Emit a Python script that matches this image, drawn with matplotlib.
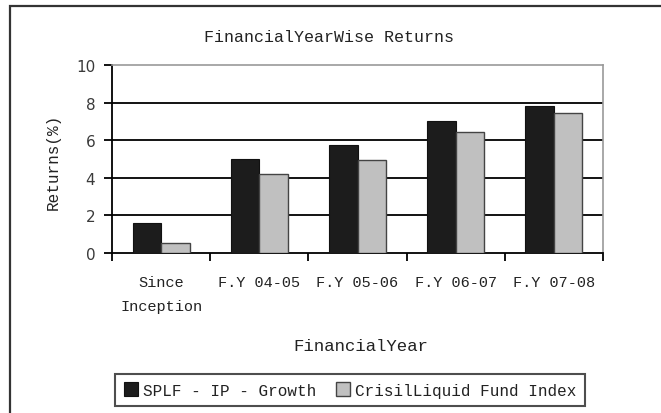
import matplotlib.pyplot as plt
import matplotlib.patches as patches
import numpy as np

# data
categories = ["Since\nInception", "F.Y 04-05", "F.Y 05-06", "F.Y 06-07", "F.Y 07-08"]
splf_growth = [1.6, 5.0, 5.75, 7.0, 7.8]
crisil_index = [0.55, 4.2, 4.95, 6.45, 7.45]
series_names = ["SPLF - IP - Growth", "CrisilLiquid Fund Index"]

W, H = 661, 414
fig = plt.figure(figsize=(W / 100, H / 100), dpi=100)
fig.patch.set_facecolor("white")

mono = "Liberation Mono"
txt = "#222222"

# outer chart border (runs off right and bottom edge)
fig.patches.append(patches.Rectangle((10 / W, -0.05), 1.2, 1 - 7 / H + 0.05,
                                     transform=fig.transFigure, fill=False,
                                     edgecolor="#333333", linewidth=1.6))

ax = fig.add_axes([112 / W, 1 - 254 / H, 491 / W, 188 / H])

x = np.arange(len(categories))
bw = 0.29
b1 = ax.bar(x - bw / 2, splf_growth, bw, color="#1c1c1c", edgecolor="#111111",
            linewidth=0.8, zorder=3, label=series_names[0])
b2 = ax.bar(x + bw / 2, crisil_index, bw, color="#c0c0c0", edgecolor="#444444",
            linewidth=1.0, zorder=3, label=series_names[1])

ax.set_xlim(-0.5, len(categories) - 0.5)
ax.set_ylim(0, 10)
ax.set_yticks([0, 2, 4, 6, 8, 10])
for yv in [2, 4, 6, 8]:
    ax.axhline(yv, color="black", linewidth=1.3, zorder=1)

ax.set_xticks(np.arange(-0.5, len(categories), 1.0))
ax.set_xticklabels([])
ax.set_xticks(x, minor=True)
ax.set_xticklabels(categories, minor=True, fontfamily=mono, fontsize=11,
                   color=txt, linespacing=1.9)
ax.tick_params(axis="x", which="major", length=6, width=1.3, direction="out", color="black")
ax.tick_params(axis="x", which="minor", length=0, pad=16)
ax.tick_params(axis="y", length=6, width=1.3, direction="out", color="black",
               pad=6, labelsize=11, labelcolor="#3a3a3a")

for s in ["left", "bottom"]:
    ax.spines[s].set_color("black")
    ax.spines[s].set_linewidth(1.3)
for s in ["top", "right"]:
    ax.spines[s].set_color("#999999")
    ax.spines[s].set_linewidth(1.2)

fig.text(329 / W, 1 - 37 / H, "FinancialYearWise Returns", ha="center", va="center",
         fontfamily=mono, fontsize=12, color=txt)
fig.text(361 / W, 1 - 347 / H, "FinancialYear", ha="center", va="center",
         fontfamily=mono, fontsize=12.5, color=txt)
fig.text(53 / W, 1 - 162 / H, "Returns(%)", ha="center", va="center", rotation=90,
         fontfamily=mono, fontsize=11.5, color=txt)

leg = fig.legend(handles=[b1, b2], loc="center", bbox_to_anchor=(350 / W, 1 - 391 / H),
                 ncol=2, frameon=True, fancybox=False, prop={"family": mono, "size": 11.5},
                 handlelength=0.9, handleheight=0.9, handletextpad=0.3,
                 columnspacing=1.2, borderpad=0.55, borderaxespad=0)
leg.get_frame().set_edgecolor("#222222")
leg.get_frame().set_linewidth(1.5)
for t in leg.get_texts():
    t.set_color(txt)

fig.savefig("out.png", dpi=100, facecolor="white")
